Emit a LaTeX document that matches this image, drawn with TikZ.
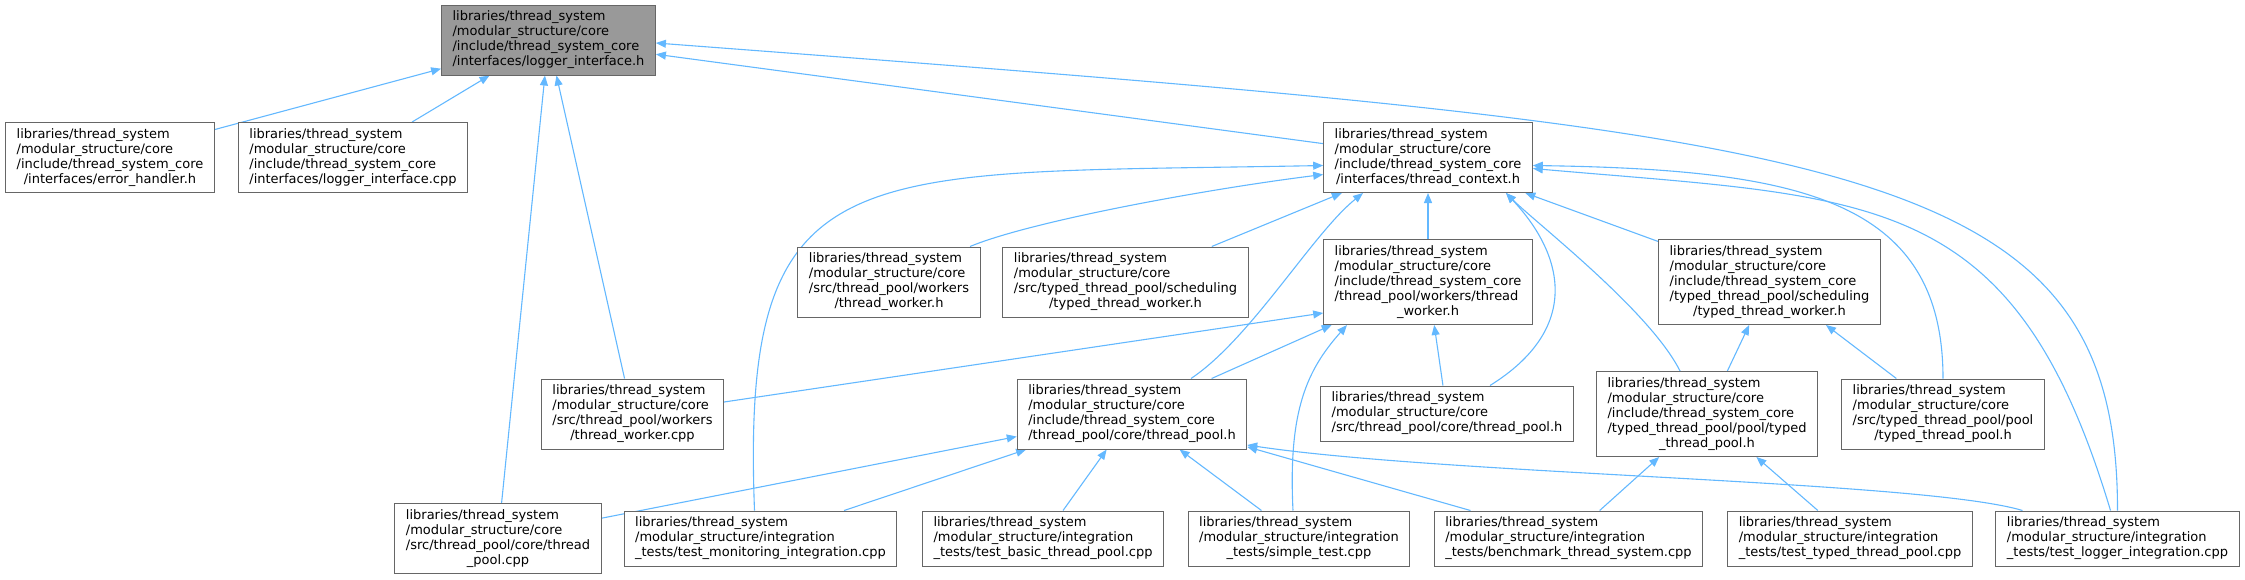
\documentclass[tikz,border=0pt]{standalone}
\usepackage{fontspec}
\setmainfont{DejaVu Sans}
\usepackage{xcolor}
\usepackage{tikz}
\usetikzlibrary{arrows.meta,backgrounds}

\definecolor{edgeblue}{HTML}{63B8FF}
\definecolor{boxgray}{HTML}{666666}
\definecolor{rootgray}{HTML}{999999}
\newcommand{\flines}[2]{\begin{tabular}{@{}l@{}}#1\\\multicolumn{1}{@{}c@{}}{#2}\end{tabular}}

\begin{document}
\begin{tikzpicture}[x=1pt, y=-1pt,
  file/.style={rectangle, draw=boxgray, fill=white, line width=1pt,
    inner xsep=11pt, inner ysep=5pt, font=\fontsize{13}{15}\selectfont},
  dep/.style={draw=edgeblue, line width=1.1pt, -{Triangle[length=10pt,width=8pt]}}
]
\useasboundingbox (0,0) rectangle (2245,579);
\node[file, fill=rootgray] (root) at (548.5,40) {\flines{libraries/thread\_system\\/modular\_structure/core\\/include/thread\_system\_core}{/interfaces/logger\_interface.h}};
\node[file] (errh) at (110,157.5) {\flines{libraries/thread\_system\\/modular\_structure/core\\/include/thread\_system\_core}{/interfaces/error\_handler.h}};
\node[file] (licpp) at (353,157.5) {\flines{libraries/thread\_system\\/modular\_structure/core\\/include/thread\_system\_core}{/interfaces/logger\_interface.cpp}};
\node[file] (ctx) at (1428,157.5) {\flines{libraries/thread\_system\\/modular\_structure/core\\/include/thread\_system\_core}{/interfaces/thread\_context.h}};
\node[file] (srcworker) at (889,282) {\flines{libraries/thread\_system\\/modular\_structure/core\\/src/thread\_pool/workers}{/thread\_worker.h}};
\node[file] (srctypedworker) at (1125.5,282) {\flines{libraries/thread\_system\\/modular\_structure/core\\/src/typed\_thread\_pool/scheduling}{/typed\_thread\_worker.h}};
\node[file] (incworker) at (1428,282) {\flines{libraries/thread\_system\\/modular\_structure/core\\/include/thread\_system\_core\\/thread\_pool/workers/thread}{\_worker.h}};
\node[file] (inctypedworker) at (1769.5,282) {\flines{libraries/thread\_system\\/modular\_structure/core\\/include/thread\_system\_core\\/typed\_thread\_pool/scheduling}{/typed\_thread\_worker.h}};
\node[file] (workercpp) at (632.5,414) {\flines{libraries/thread\_system\\/modular\_structure/core\\/src/thread\_pool/workers}{/thread\_worker.cpp}};
\node[file] (poolh) at (1132,414) {\flines{libraries/thread\_system\\/modular\_structure/core\\/include/thread\_system\_core}{/thread\_pool/core/thread\_pool.h}};
\node[file] (srcpoolh) at (1447,413.5) {\flines{libraries/thread\_system\\/modular\_structure/core}{/src/thread\_pool/core/thread\_pool.h}};
\node[file] (typedpoolh) at (1707,414) {\flines{libraries/thread\_system\\/modular\_structure/core\\/include/thread\_system\_core\\/typed\_thread\_pool/pool/typed}{\_thread\_pool.h}};
\node[file] (srctypedpoolh) at (1943,414) {\flines{libraries/thread\_system\\/modular\_structure/core\\/src/typed\_thread\_pool/pool}{/typed\_thread\_pool.h}};
\node[file] (poolcpp) at (498,538.5) {\flines{libraries/thread\_system\\/modular\_structure/core\\/src/thread\_pool/core/thread}{\_pool.cpp}};
\node[file] (monitoring) at (760.5,538.5) {\flines{libraries/thread\_system\\/modular\_structure/integration}{\_tests/test\_monitoring\_integration.cpp}};
\node[file] (basic) at (1043,538.5) {\flines{libraries/thread\_system\\/modular\_structure/integration}{\_tests/test\_basic\_thread\_pool.cpp}};
\node[file] (simple) at (1299,538.5) {\flines{libraries/thread\_system\\/modular\_structure/integration}{\_tests/simple\_test.cpp}};
\node[file] (bench) at (1568.5,538.5) {\flines{libraries/thread\_system\\/modular\_structure/integration}{\_tests/benchmark\_thread\_system.cpp}};
\node[file] (typedtest) at (1850,538.5) {\flines{libraries/thread\_system\\/modular\_structure/integration}{\_tests/test\_typed\_thread\_pool.cpp}};
\node[file] (loggertest) at (2117.5,538.5) {\flines{libraries/thread\_system\\/modular\_structure/integration}{\_tests/test\_logger\_integration.cpp}};
\begin{scope}[on background layer]
\draw[dep] (errh) -- (root);
\draw[dep] (licpp) -- (root);
\draw[dep] (ctx) -- (root);
\draw[dep] (workercpp) -- (root);
\draw[dep] (poolcpp) -- (root);
\draw[dep] (loggertest.north) .. controls +(0,-357) and +(1190,90) .. ([yshift=-3pt]root.east);
\draw[dep] ([xshift=81pt]srcworker.north) .. controls +(60,-25) and +(-120,15) .. ([yshift=-17pt]ctx.west);
\draw[dep] (srctypedworker) -- (ctx);
\draw[dep] (incworker) -- (ctx);
\draw[dep] (inctypedworker) -- (ctx);
\draw[dep] ([xshift=-6pt]monitoring.north) .. controls +(-14,-361) and +(-473,9) .. ([yshift=-8pt]ctx.west);
\draw[dep] ([xshift=59pt]poolh.north) .. controls +(60,-40) and +(-50,40) .. ([xshift=-65pt]ctx.south);
\draw[dep] ([xshift=43pt]srcpoolh.north) .. controls +(90,-56) and +(60,64) .. ([xshift=78pt]ctx.south);
\draw[dep] ([xshift=-27pt]typedpoolh.north) .. controls +(-30,-60) and +(30,30) .. ([xshift=78pt]ctx.south);
\draw[dep] (srctypedpoolh.north) .. controls +(0,-179) and +(267,4) .. ([yshift=-8pt]ctx.east);
\draw[dep] ([xshift=-7pt]loggertest.north) .. controls +(-97,-323) and +(341,30) .. ([yshift=-11pt]ctx.east);
\draw[dep] ([yshift=12pt]workercpp.east) -- ([yshift=-31pt]incworker.west);
\draw[dep] (poolh) -- (incworker);
\draw[dep] ([xshift=-6pt]simple.north) .. controls +(-5,-100) and +(-40,45) .. ([xshift=-81pt]incworker.south);
\draw[dep] (srcpoolh) -- (incworker);
\draw[dep] (typedpoolh) -- (inctypedworker);
\draw[dep] (srctypedpoolh) -- (inctypedworker);
\draw[dep] (poolcpp) -- (poolh);
\draw[dep] (monitoring) -- (poolh);
\draw[dep] (basic) -- (poolh);
\draw[dep] (simple) -- (poolh);
\draw[dep] (bench) -- (poolh);
\draw[dep] ([xshift=-95pt]loggertest.north) .. controls +(-100,-30) and +(200,30) .. ([yshift=-31pt]poolh.east);
\draw[dep] (bench) -- (typedpoolh);
\draw[dep] (typedtest) -- (typedpoolh);
\end{scope}
\end{tikzpicture}
\end{document}
